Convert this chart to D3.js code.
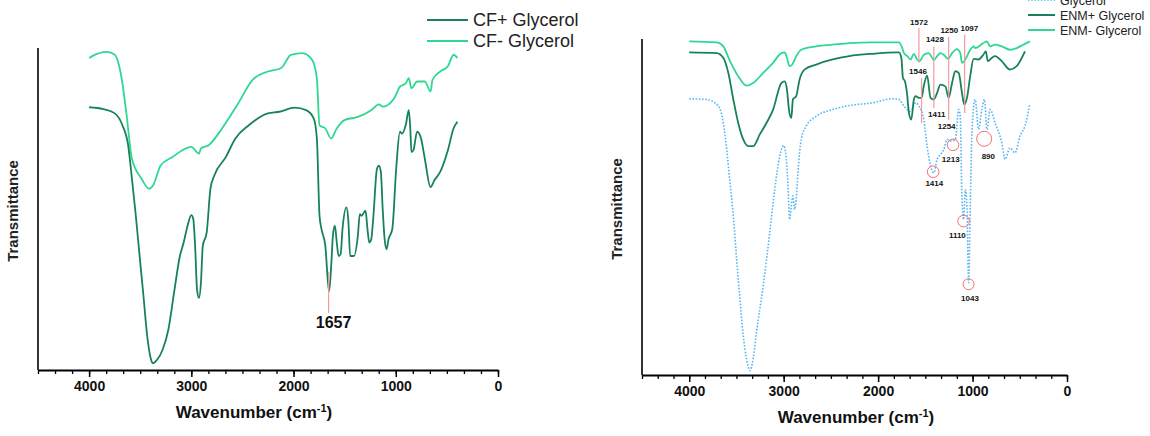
<!DOCTYPE html>
<html>
<head>
<meta charset="utf-8">
<script src="https://cdn.jsdelivr.net/npm/d3@7"></script>
<style>
  body { margin: 0; background: #fff; }
  svg { display: block; font-family: "Liberation Sans", Arial, sans-serif; }
</style>
</head>
<body>
<svg id="chart" width="1150" height="436"></svg>
<script>
/*--- data (wavenumber cm-1, transmittance in % of the plot height) ---*/
var majorTicks = [4000, 3000, 2000, 1000, 0];

var cfPlus = [[4000,81.6],[3861,81.0],[3749,79.7],[3674,76.0],[3618,69.8],[3581,59.4],[3543,47.9],[3506,35.4],[3468,22.9],[3431,10.4],[3393,3.1],[3375,2.1],[3337,3.1],[3281,6.3],[3225,12.5],[3169,24.0],[3112,35.4],[3075,39.6],[3037,44.8],[3000,48.1],[2981,46.9],[2963,38.5],[2944,24.9],[2925,22.4],[2906,27.1],[2888,38.5],[2850,42.7],[2813,56.3],[2775,60.4],[2663,66.1],[2569,71.9],[2438,76.0],[2251,79.7],[2139,80.2],[1989,81.5],[1877,80.7],[1802,78.1],[1772,71.9],[1746,47.9],[1727,43.8],[1689,38.5],[1663,27.1],[1652,24.5],[1630,33.3],[1615,41.7],[1596,44.8],[1577,39.6],[1559,35.4],[1540,35.9],[1521,43.8],[1484,50.5],[1465,46.9],[1446,35.4],[1409,35.4],[1371,41.7],[1352,48.4],[1334,47.9],[1296,49.5],[1277,43.8],[1259,39.6],[1240,40.6],[1221,46.9],[1184,62.5],[1165,63.5],[1146,61.5],[1128,50.0],[1109,40.6],[1090,37.5],[1071,40.6],[1034,43.8],[996,62.5],[959,74.0],[940,73.4],[903,76.0],[873,80.7],[858,75.0],[847,67.7],[828,68.2],[791,74.0],[753,71.9],[716,65.6],[660,56.8],[622,58.9],[566,61.5],[491,68.2],[435,75.0],[397,77.1]];

var cfMinus = [[4000,96.9],[3974,97.4],[3824,98.8],[3749,97.9],[3682,90.6],[3637,80.2],[3581,65.6],[3487,59.4],[3412,56.3],[3375,57.3],[3300,63.5],[3187,66.1],[3000,69.3],[2925,67.2],[2906,68.8],[2831,69.8],[2700,75.0],[2551,82.3],[2401,90.1],[2251,92.7],[2120,93.8],[2026,97.9],[1914,98.4],[1820,96.4],[1772,90.6],[1746,76.0],[1689,75.0],[1633,71.9],[1577,75.0],[1502,77.6],[1371,78.6],[1240,80.7],[1165,82.5],[1128,81.8],[1015,84.4],[959,88.0],[903,89.0],[873,90.6],[847,87.5],[791,89.6],[716,89.6],[660,86.5],[641,90.1],[566,92.7],[491,94.3],[435,97.9],[397,96.9]];

var enmPlus = [[4000,96.0],[3709,95.8],[3639,94.4],[3586,89.9],[3533,82.0],[3481,75.0],[3428,70.1],[3375,68.1],[3323,68.1],[3253,71.6],[3182,75.0],[3112,79.0],[3025,86.9],[2989,87.4],[2965,84.9],[2944,79.0],[2919,76.5],[2902,82.0],[2867,83.0],[2832,87.9],[2779,90.9],[2656,92.4],[2481,93.9],[2305,94.9],[2060,95.6],[1779,96.0],[1754,94.4],[1737,88.4],[1716,87.4],[1691,83.0],[1674,78.0],[1649,76.0],[1621,82.0],[1603,83.0],[1568,82.5],[1540,82.5],[1516,86.1],[1481,89.1],[1445,82.5],[1410,82.0],[1375,84.0],[1340,86.4],[1288,85.9],[1253,82.5],[1217,86.9],[1182,90.4],[1147,89.9],[1112,84.0],[1088,80.5],[1059,82.5],[1024,89.1],[989,94.1],[937,93.9],[884,95.4],[859,96.3],[838,93.4],[796,94.4],[761,94.9],[691,93.4],[603,90.9],[533,91.9],[445,96.3]];

var enmMinus = [[4000,99.3],[3709,99.0],[3639,97.8],[3568,93.4],[3481,88.9],[3393,86.1],[3323,86.9],[3217,89.9],[3112,92.9],[3025,95.8],[2989,96.0],[2965,94.4],[2937,91.9],[2909,92.4],[2867,94.9],[2814,96.8],[2656,97.8],[2481,98.3],[2305,98.8],[2060,99.0],[1779,99.0],[1751,97.8],[1726,95.8],[1691,94.9],[1656,93.9],[1621,95.6],[1586,93.9],[1561,93.4],[1516,95.3],[1463,95.8],[1428,94.4],[1410,93.7],[1375,94.9],[1340,95.8],[1305,95.3],[1259,94.1],[1217,95.8],[1165,97.0],[1130,95.8],[1112,92.9],[1077,93.9],[1024,96.8],[989,97.8],[972,97.3],[884,98.8],[849,99.3],[814,97.8],[761,98.3],[691,97.8],[603,96.8],[533,97.3],[463,98.3],[393,99.3]];

var glycerol = [[4000,82.2],[3814,82.0],[3691,80.0],[3639,75.0],[3603,67.1],[3568,57.2],[3533,47.3],[3498,34.5],[3463,22.6],[3428,11.7],[3393,4.8],[3358,1.3],[3323,4.8],[3288,12.7],[3217,26.5],[3147,42.4],[3095,55.2],[3042,65.1],[3000,68.3],[2979,66.1],[2954,56.2],[2937,46.3],[2919,50.3],[2902,53.3],[2884,49.3],[2867,52.3],[2849,60.2],[2814,70.1],[2761,74.1],[2656,77.0],[2481,79.0],[2305,80.2],[2060,81.0],[1849,82.2],[1779,82.0],[1726,80.0],[1656,78.5],[1603,81.0],[1568,80.0],[1516,76.0],[1481,68.1],[1445,62.2],[1410,60.2],[1375,64.2],[1340,65.6],[1305,67.1],[1270,70.1],[1224,69.6],[1182,70.1],[1147,79.0],[1130,77.0],[1112,52.3],[1095,46.3],[1077,55.2],[1059,50.3],[1042,27.5],[1024,50.3],[1007,72.1],[972,82.0],[937,73.1],[902,79.0],[873,82.0],[849,73.1],[814,79.0],[761,75.0],[691,69.1],[656,64.2],[603,67.6],[551,66.1],[498,71.1],[445,74.1],[393,80.7]];

// peak marks: label, wavenumber, line top, line bottom, label centre (transmittance units)
var leftPeak = ["1657", 1657, 30.5, 17.7, 15.0];
var markLines = [[1568,103.3,92.9],[1540,88.4,75.0],[1410,97.8,79.5],[1253,100.6,76.0],[1084,101.3,78.0]];
var markTexts = [["1572",1567,105.2],["1546",1578,90.4],["1428",1398,100.0],["1411",1380,77.7],["1250",1246,102.8],["1254",1274,74.0],["1097",1034,103.3],["1414",1405,57.2],["1213",1231,64.2],["890",833,65.3],["1110",1161,41.7],["1043",1027,22.8]];
var markCircles = [[1417,60.5,5.8],[1207,68.5,5.8],[877,70.3,7.5],[1095,45.8,5.8],[1042,27.0,5.5]];

var darkGreen = "#17825a",
	lightGreen = "#2fd892",
	blueDot = "#5ab6f2",
	peakRed = "#f39a9a";

var svg = d3.select("#chart");

/*--panel drawing--*/
function draw_panel(left, right, top, bottom, titleX) {
	var x = d3.scaleLinear().domain([4500, 0]).range([left, right]);
	var y = d3.scaleLinear().domain([0, 100]).range([bottom, top]);
	var g = svg.append("g");

	//y axis line only
	g.append("line")
		.attr("x1", left).attr("x2", left)
		.attr("y1", top).attr("y2", bottom)
		.style("stroke", "#000").style("stroke-width", 1.6);

	//minor ticks
	var minor = d3.range(0, 28).map(function (i) { return 4500 - i * 1000 / 6; });
	g.append("g")
		.attr("transform", "translate(0," + bottom + ")")
		.call(d3.axisBottom(x).tickValues(minor).tickSize(4).tickFormat(""))
		.call(function (a) { a.select(".domain").remove(); })
		.selectAll("line").style("stroke-width", 1.3);

	//major ticks
	var ax = g.append("g")
		.attr("transform", "translate(0," + bottom + ")")
		.call(d3.axisBottom(x).tickValues(majorTicks).tickSize(7).tickSizeOuter(0).tickPadding(4).tickFormat(d3.format("d")));
	ax.select(".domain").style("stroke-width", 1.8);
	ax.selectAll("line").style("stroke-width", 1.5);
	ax.selectAll("text")
		.style("font-size", "14px")
		.style("font-weight", "bold")
		.style("fill", "#111");

	//x title
	var t = g.append("text")
		.attr("x", titleX)
		.attr("y", bottom + 48)
		.attr("text-anchor", "middle")
		.style("font-size", "17px")
		.style("font-weight", "bold")
		.style("fill", "#111");
	t.append("tspan").text("Wavenumber (cm");
	t.append("tspan").attr("dy", -6).style("font-size", "11px").text("-1");
	t.append("tspan").attr("dy", 6).text(")");

	//y title
	g.append("text")
		.attr("transform", "translate(" + (left - 20) + "," + ((top + bottom) / 2 + 2) + ") rotate(-90)")
		.attr("text-anchor", "middle")
		.style("font-size", "15px")
		.style("font-weight", "bold")
		.style("fill", "#222")
		.text("Transmittance");

	return { x: x, y: y, g: g };
}

function add_trace(p, data, color, dashed) {
	var line = d3.line()
		.x(function (d) { return p.x(d[0]); })
		.y(function (d) { return p.y(d[1]); })
		.curve(d3.curveMonotoneX);
	var path = p.g.append("path")
		.datum(data)
		.attr("d", line)
		.style("fill", "none")
		.style("stroke", color)
		.style("stroke-width", dashed ? 1.6 : 1.8);
	if (dashed) path.style("stroke-dasharray", "1.6,1.6");
}

function add_legend(items, x0, y0, step, size, lineLen) {
	items.forEach(function (it, i) {
		var yy = y0 + i * step;
		var l = svg.append("line")
			.attr("x1", x0).attr("x2", x0 + lineLen)
			.attr("y1", yy).attr("y2", yy)
			.style("stroke", it[1]).style("stroke-width", it[2] ? 1.6 : 2);
		if (it[2]) l.style("stroke-dasharray", "1.6,1.6");
		svg.append("text")
			.attr("x", x0 + lineLen + 5)
			.attr("y", yy + size * 0.36)
			.style("font-size", size + "px")
			.style("fill", "#222")
			.text(it[0]);
	});
}

/*--left panel--*/
var pL = draw_panel(38, 498, 48, 370, 254);
add_trace(pL, cfMinus, lightGreen, false);
add_trace(pL, cfPlus, darkGreen, false);

pL.g.append("line")
	.attr("x1", pL.x(leftPeak[1])).attr("x2", pL.x(leftPeak[1]))
	.attr("y1", pL.y(leftPeak[2])).attr("y2", pL.y(leftPeak[3]))
	.style("stroke", peakRed).style("stroke-width", 1.2);
pL.g.append("text")
	.attr("x", pL.x(leftPeak[1]) + 5)
	.attr("y", pL.y(leftPeak[4]) + 6)
	.attr("text-anchor", "middle")
	.style("font-size", "16px").style("font-weight", "bold").style("fill", "#111")
	.text(leftPeak[0]);

add_legend([["CF+ Glycerol", darkGreen, false], ["CF- Glycerol", lightGreen, false]], 427, 20, 21, 18, 41);

/*--right panel--*/
var pR = draw_panel(642, 1067, 39, 375, 856);
add_trace(pR, glycerol, blueDot, true);
add_trace(pR, enmMinus, lightGreen, false);
add_trace(pR, enmPlus, darkGreen, false);

markLines.forEach(function (m) {
	pR.g.append("line")
		.attr("x1", pR.x(m[0])).attr("x2", pR.x(m[0]))
		.attr("y1", pR.y(m[1])).attr("y2", pR.y(m[2]))
		.style("stroke", peakRed).style("stroke-width", 1.2);
});
markCircles.forEach(function (c) {
	pR.g.append("circle")
		.attr("cx", pR.x(c[0])).attr("cy", pR.y(c[1])).attr("r", c[2])
		.style("fill", "none").style("stroke", "#f07070").style("stroke-width", 1);
});
markTexts.forEach(function (m) {
	pR.g.append("text")
		.attr("x", pR.x(m[1])).attr("y", pR.y(m[2]) + 3)
		.attr("text-anchor", "middle")
		.style("font-size", "8px").style("font-weight", "bold").style("fill", "#111")
		.text(m[0]);
});

add_legend([["Glycerol", blueDot, true], ["ENM+ Glycerol", darkGreen, false], ["ENM- Glycerol", lightGreen, false]], 1028, 0, 15, 12.5, 27);
</script>
</body>
</html>
